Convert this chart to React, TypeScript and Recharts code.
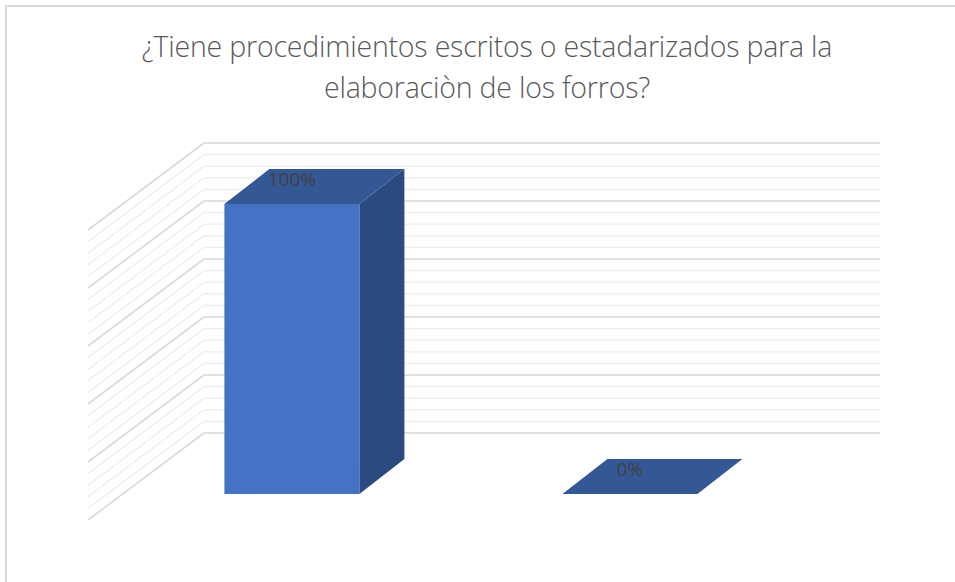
import React from 'react'
import { BarChart, Bar, XAxis, YAxis, CartesianGrid, LabelList } from 'recharts'

const categories = ['No', 'Si']
const percentages = [100, 0]
const gridTicks = [0, 4, 8, 12, 16, 20, 24, 28, 32, 36, 40, 44, 48, 52, 56, 60, 64, 68, 72, 76, 80, 84, 88, 92, 96, 100]

const data = categories.map((name, i) => ({ name, value: percentages[i] }))

// 3d projection: back wall -> floor front edge
const WALL_DX = -116
const WALL_DY = 87
// back wall -> front face of the bars
const FRONT_DX = -81
const FRONT_DY = 61
// bar depth (front -> back)
const DEPTH_DX = 45
const DEPTH_DY = -35

const TEXT = '#595959'
const FONT = '"Open Sans", "Liberation Sans", sans-serif'

function GridLine(props: any) {
  const { x1, y1, x2, index } = props
  const major = index % 5 === 0
  const stroke = major ? '#d9d9d9' : '#ededed'
  const w = major ? 1.6 : 1.2
  return (
    <g>
      <line x1={x1} y1={y1} x2={x2} y2={y1} stroke={stroke} strokeWidth={w} />
      <line x1={x1} y1={y1} x2={x1 + WALL_DX} y2={y1 + WALL_DY} stroke={stroke} strokeWidth={w} />
    </g>
  )
}

function Box3D(props: any) {
  const { x, y, width, height } = props
  const fx = x + FRONT_DX
  const fy = y + FRONT_DY
  const h = Math.max(height, 0)
  const top = `${fx},${fy} ${fx + width},${fy} ${fx + width + DEPTH_DX},${fy + DEPTH_DY} ${fx + DEPTH_DX},${fy + DEPTH_DY}`
  const side = `${fx + width},${fy} ${fx + width + DEPTH_DX},${fy + DEPTH_DY} ${fx + width + DEPTH_DX},${fy + DEPTH_DY + h} ${fx + width},${fy + h}`
  return (
    <g>
      {h > 0 && <polygon points={side} fill="#2b4a80" />}
      {h > 0 && <rect x={fx} y={fy} width={width} height={h} fill="#4472c4" />}
      <polygon points={top} fill="#345896" />
    </g>
  )
}

function BarLabel(props: any) {
  const { x, y, width, value } = props
  return (
    <text
      x={x + FRONT_DX + width / 2}
      y={y + FRONT_DY - 25}
      textAnchor="middle"
      dominantBaseline="central"
      fill="#404040"
      fontSize={19}
      fontFamily={FONT}
    >
      {value}%
    </text>
  )
}

function CategoryTick(props: any) {
  const { x, payload } = props
  return (
    <text
      x={x + WALL_DX}
      y={433 + WALL_DY + 31}
      textAnchor="middle"
      dominantBaseline="central"
      fill={TEXT}
      fontSize={19}
      fontFamily={FONT}
    >
      {payload.value}
    </text>
  )
}

export default function App() {
  return (
    <div style={{ position: 'absolute', left: 0, top: 0, width: 955, height: 582, background: '#fff', overflow: 'hidden' }}>
      <div
        style={{
          position: 'absolute',
          left: 5,
          top: 5,
          width: 960,
          height: 590,
          borderLeft: '2px solid #d9d9d9',
          borderTop: '2px solid #d9d9d9',
        }}
      />
      <div
        style={{
          position: 'absolute',
          left: 0,
          top: 26,
          width: 974,
          textAlign: 'center',
          color: TEXT,
          fontFamily: FONT,
          fontSize: 28.5,
          lineHeight: '41px',
          fontWeight: 300,
          letterSpacing: -0.2,
        }}
      >
        ¿Tiene procedimientos escritos o estadarizados para la
        <br />
        elaboraciòn de los forros?
      </div>
      <div style={{ position: 'absolute', left: 0, top: 0 }}>
        <BarChart
          width={955}
          height={582}
          data={data}
          margin={{ top: 143, right: 75, bottom: 149, left: 204 }}
          barCategoryGap="30%"
        >
          <CartesianGrid vertical={false} horizontal={(p: any) => <GridLine {...p} />} />
          <XAxis
            dataKey="name"
            height={0}
            axisLine={false}
            tickLine={false}
            tick={<CategoryTick />}
            interval={0}
          />
          <YAxis hide domain={[0, 100]} ticks={gridTicks} interval={0} />
          <Bar dataKey="value" shape={<Box3D />} isAnimationActive={false}>
            <LabelList dataKey="value" content={<BarLabel />} />
          </Bar>
        </BarChart>
      </div>
    </div>
  )
}
